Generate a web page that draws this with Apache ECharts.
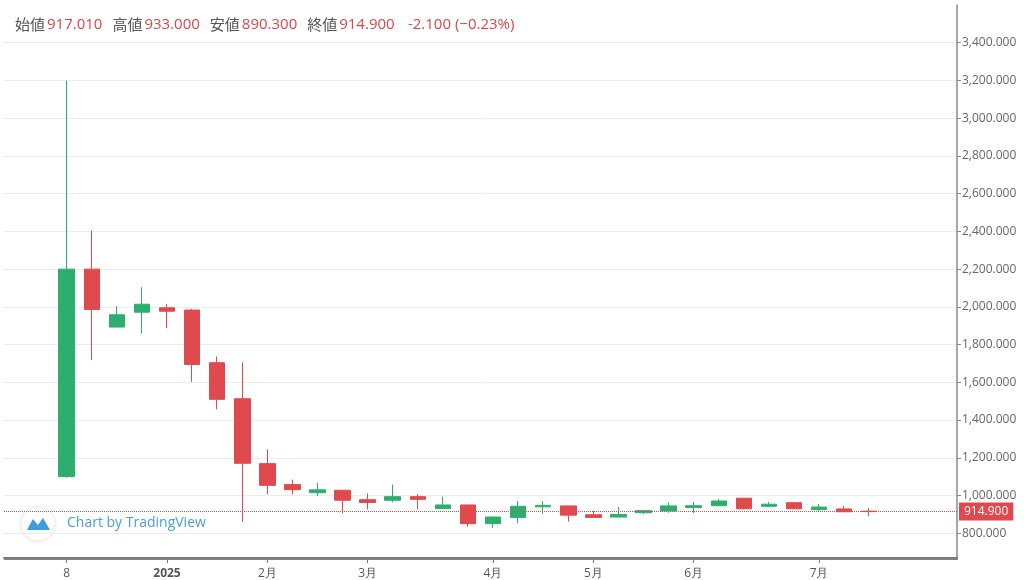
<!DOCTYPE html>
<html><head><meta charset="utf-8">
<script src="https://cdn.jsdelivr.net/npm/echarts@6/dist/echarts.min.js"></script>
<style>html,body{margin:0;padding:0;background:#fff}#c{width:1024px;height:580px}</style>
</head><body><div id="c"></div>
<script>
// weekly candles: [open, close, low, high]
const categories = ['p0','p1','w0','w1','w2','w3','w4','w5','w6','w7','w8','w9','w10','w11','w12','w13','w14','w15','w16','w17','w18','w19','w20','w21','w22','w23','w24','w25','w26','w27','w28','w29','w30','w31','w32','f0','f1','f2'];
const opens  = [1100,2200,1893,1972,1995,1983,1704,1513,1169,1058,1015,1028,978,975,994,931,950,851,883,940,945,898,886,909,918,937,946,986,943,962,925,929,917.01];
const closes = [2200,1986,1958,2014,1977,1695,1510,1171,1054,1031,1030,975,963,994,980,950,851,886,943,948,896,884,900,920,945,946,971,930,954,930,939,914,914.9];
const lows   = [1095,1718,1893,1859,1887,1603,1457,860,1006,1006,997,906,927,964,927,931,835,828,853,904,862,884,884,902,909,907,946,927,939,927,918,913,890.3];
const highs  = [3200,2405,2004,2104,2016,1990,1737,1706,1245,1084,1068,1028,1012,1058,1008,994,950,888,971,970,945,918,939,921,962,966,982,986,966,964,955,945,933];
const tickLabels = {2:'8',6:'2025',10:'2月',14:'3月',19:'4月',23:'5月',27:'6月',32:'7月'};
const lastClose = 914.9;

const up='#2eae6e', down='#e04a4e';
const candle = categories.map((c,i)=>{const k=i-2; return (k>=0&&k<opens.length)?[opens[k],closes[k],lows[k],highs[k]]:'-';});
const fmt = v => v.toLocaleString('en-US',{minimumFractionDigits:3,maximumFractionDigits:3});

const chart = echarts.init(document.getElementById('c'));
chart.setOption({
  animation:false,
  grid:{left:4,right:67,top:5,bottom:8.2},
  xAxis:{type:'category',data:categories,boundaryGap:true,offset:-13,
    axisLine:{show:true,onZero:false,lineStyle:{color:'#777',width:2}},
    axisTick:{show:true,length:5,alignWithLabel:true,interval:(i)=>tickLabels[i]!==undefined,lineStyle:{color:'#777',width:1}},
    axisLabel:{interval:(i)=>tickLabels[i]!==undefined,
      formatter:(v,i)=>tickLabels[i]==='2025'?'{b|2025}':(tickLabels[i]||''),
      color:'#555',fontSize:12,fontFamily:'Open Sans',margin:10,
      rich:{b:{fontWeight:'bold',color:'#555',fontSize:12,fontFamily:'Open Sans'}}},
    splitLine:{show:false}},
  yAxis:{type:'value',position:'right',min:600,max:3600,interval:200,
    axisLine:{show:true,lineStyle:{color:'#8a8a8a',width:1.5}},
    axisTick:{show:true,length:4,lineStyle:{color:'#8a8a8a'}},
    axisLabel:{color:'#666',fontSize:12,fontFamily:'Open Sans',margin:5,formatter:fmt,showMinLabel:false,showMaxLabel:false},
    splitLine:{show:true,showMinLine:false,showMaxLine:false,lineStyle:{color:'#ececec',type:'solid'}}},
  series:[{type:'candlestick',data:candle,barWidth:16,
    itemStyle:{color:up,color0:down,borderColor:up,borderColor0:down,borderWidth:1},
    markLine:{symbol:'none',silent:true,
      lineStyle:{color:down,type:'dotted',width:1},
      label:{position:'end',formatter:()=>fmt(lastClose),color:'#fff',backgroundColor:down,padding:[3,5],fontSize:12,fontFamily:'Open Sans',distance:2},
      data:[{yAxis:lastClose}]}}],
  graphic:[
    {type:'rect',left:4,top:558,shape:{width:953,height:2},style:{fill:'#808080'},z:100},
    {type:'rect',left:955,top:560,shape:{width:4,height:20},style:{fill:'#fff'},z:100},
    {type:'text',left:15,top:17,style:{rich:{g:{fill:'#555',fontSize:15,fontFamily:'Noto Sans CJK JP',padding:[0,2,0,0]},r:{fill:'#d9474b',fontSize:15,fontFamily:'Open Sans'}},
      text:'{g|始値}{r|917.010}   {g|高値}{r|933.000}   {g|安値}{r|890.300}   {g|終値}{r|914.900}    {r|-2.100 (−0.23%)}'}},
    {type:'circle',shape:{cx:38,cy:524,r:17},style:{fill:'#fff',stroke:'#eee',lineWidth:1,shadowBlur:4,shadowColor:'rgba(0,0,0,0.1)'}},
    {type:'polygon',shape:{points:[[27,530],[33,519],[38,525],[43,518],[50,530]]},style:{fill:'#3d9be0'}},
    {type:'text',left:67,top:516,style:{text:'Chart by TradingView',fill:'#4a9fd8',fontSize:14,fontFamily:'Open Sans'}}
  ]
});
</script></body></html>
